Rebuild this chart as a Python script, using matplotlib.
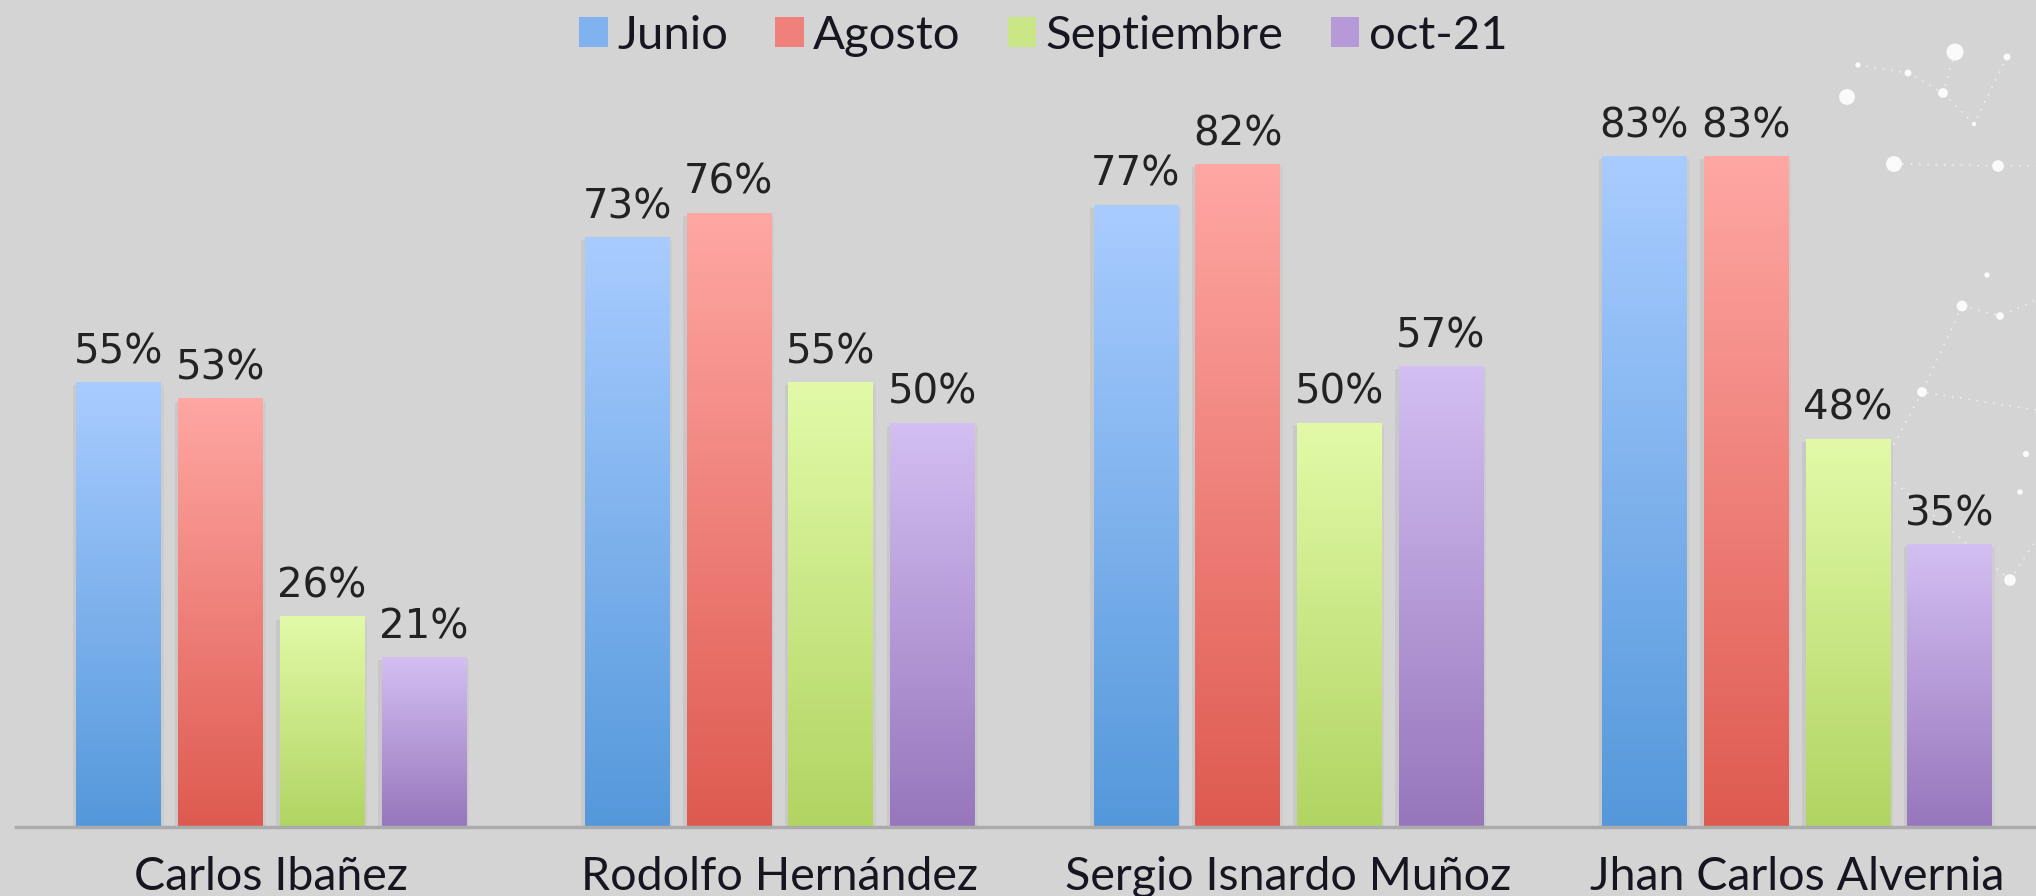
import numpy as np
import matplotlib
matplotlib.use("Agg")
import matplotlib.pyplot as plt
from matplotlib.patches import Patch
from matplotlib.colors import to_rgb

categories = ["Carlos Ibañez", "Rodolfo Hernández", "Sergio Isnardo Muñoz", "Jhan Carlos Alvernia"]
series_names = ["Junio", "Agosto", "Septiembre", "oct-21"]
junio = [55, 73, 77, 83]
agosto = [53, 76, 82, 83]
septiembre = [26, 55, 50, 48]
octubre = [21, 50, 57, 35]
values = [junio, agosto, septiembre, octubre]

top_colors = ["#A9CCFF", "#FFA7A3", "#E2FAA8", "#D3BFF2"]
bot_colors = ["#5498DB", "#DE5A50", "#B1D462", "#9776BC"]
mid_colors = ["#7FB2EE", "#EF807A", "#CBE686", "#B59AD7"]

bg = "#D4D4D4"
fig = plt.figure(figsize=(20.36, 8.96), dpi=100, facecolor=bg)

# decorative constellation in top-right (figure pixel coords)
W, H = 2036, 896
dec = fig.add_axes([0, 0, 1, 1], zorder=0)
dec.set_xlim(0, W); dec.set_ylim(H, 0); dec.axis("off")
lines = [[(1858, 65), (1908, 73), (1943, 93), (1974, 124), (2007, 57)],
         [(1955, 52), (1943, 93)],
         [(1894, 164), (1998, 166), (2036, 166)],
         [(1962, 306), (2000, 316), (2036, 300)],
         [(1962, 306), (1922, 392), (2036, 410)],
         [(1922, 392), (1880, 470), (2010, 580)],
         [(2010, 580), (2036, 540)]]
for ln in lines:
    xs, ys = zip(*ln)
    dec.plot(xs, ys, ls=(0, (1, 4)), color="white", lw=1.2, alpha=0.6)
dots = [(1955, 52, 150), (1847, 97, 130), (1894, 164, 130), (1998, 166, 70),
        (1943, 93, 50), (1908, 73, 25), (1858, 65, 15), (2007, 57, 25),
        (1974, 124, 10), (1962, 306, 60), (2000, 316, 30), (1922, 392, 50),
        (2010, 580, 70), (2026, 454, 20), (1987, 275, 15), (2020, 492, 15)]
for x, y, s in dots:
    dec.scatter([x], [y], s=s, color="white", alpha=0.9, edgecolors="none")

ax = fig.add_axes([12 / 1568, 53 / 690, 1 - 12 / 1568, 637 / 690], zorder=1)
ax.set_facecolor("none")

x = np.arange(len(categories))
step = 0.2
width = 0.166
for i, vals in enumerate(values):
    pos = x + (i - 1.5) * step
    bars = ax.bar(pos, vals, width, color="none", edgecolor="none")
    ct = np.array(to_rgb(top_colors[i])); cb = np.array(to_rgb(bot_colors[i]))
    t = np.linspace(0, 1, 256)[:, None]
    img = (ct[None, :] * (1 - t) + cb[None, :] * t)[:, None, :]
    for b, v in zip(bars, vals):
        x0 = b.get_x(); w = b.get_width(); h = b.get_height()
        # subtle side shadows
        ax.imshow(np.full((1, 1, 3), 0.70), extent=[x0 - 0.007, x0, 0, h - 0.4],
                  aspect="auto", zorder=1.5, alpha=0.35)
        ax.imshow(np.full((1, 1, 3), 0.74), extent=[x0 + w, x0 + w + 0.004, 0, h - 0.4],
                  aspect="auto", zorder=1.5, alpha=0.3)
        ax.imshow(img, extent=[x0, x0 + w, 0, h], aspect="auto", origin="upper", zorder=2)
        ax.annotate(f"{v}%", (x0 + w / 2, h), xytext=(0, 14), textcoords="offset points",
                    ha="center", va="baseline", fontsize=29, color="#222222",
                    family="DejaVu Sans", zorder=3)

ax.set_xlim(-0.5026, 3.47)
ax.set_ylim(0, 102.4)
ax.set_yticks([])
ax.set_xticks(x)
ax.set_xticklabels(categories, fontsize=33.5, family="Lato", color="#161620")
ax.tick_params(axis="x", length=0, pad=21)
for s in ["top", "right", "left"]:
    ax.spines[s].set_visible(False)
ax.spines["bottom"].set_color("#ABABAB")
ax.spines["bottom"].set_linewidth(2.5)

handles = [Patch(facecolor=c, edgecolor="none") for c in mid_colors]
leg = fig.legend(handles, series_names, loc="center", bbox_to_anchor=(803.5 / 1568, 1 - 36 / 896),
                 ncol=4, frameon=False, prop={"family": "Lato", "size": 34},
                 handlelength=0.6, handleheight=0.6, handletextpad=0.2, columnspacing=1.0)
for t in leg.get_texts():
    t.set_color("#161620")

fig.savefig("out.png", dpi=100, facecolor=bg)
